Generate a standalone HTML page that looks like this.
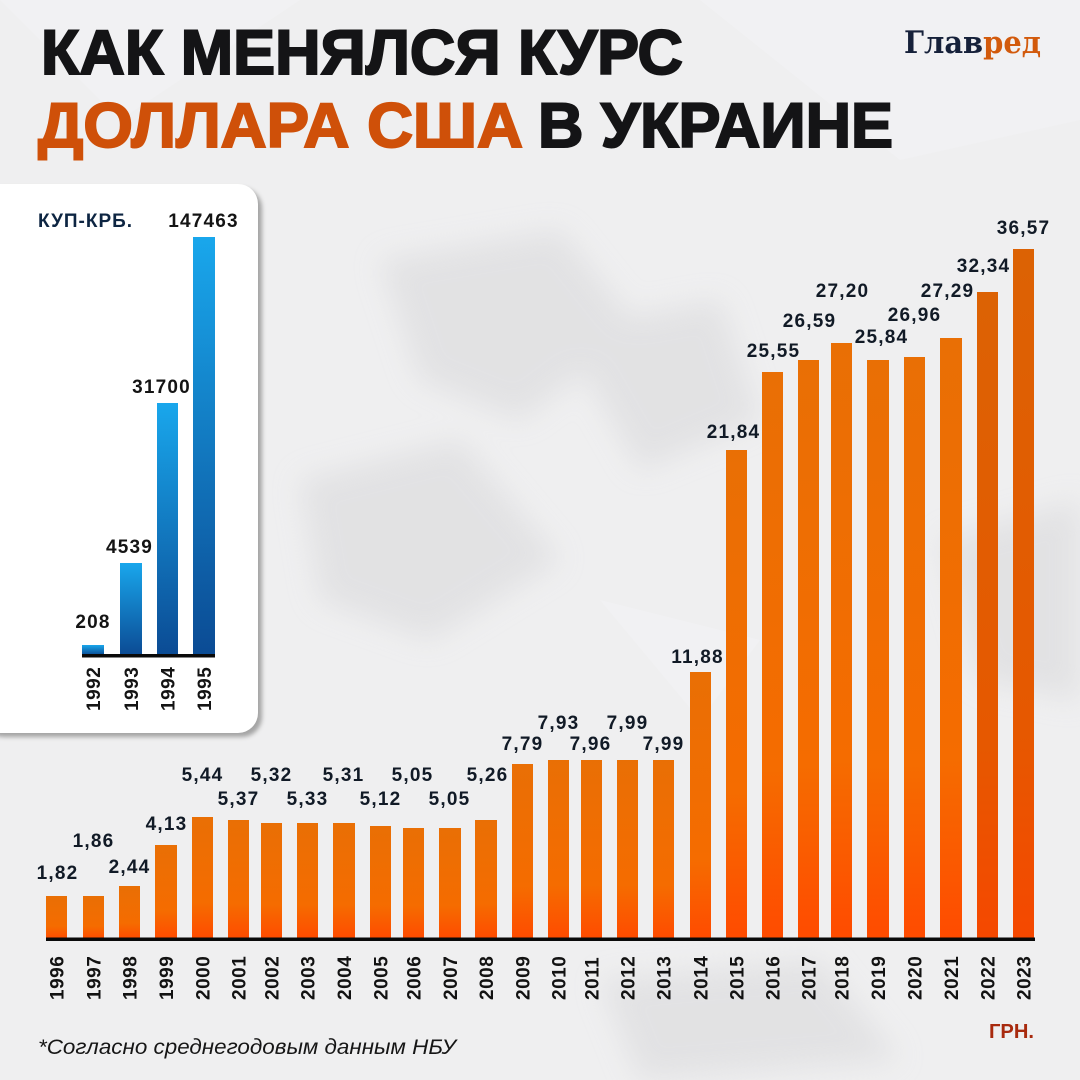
<!DOCTYPE html>
<html>
<head>
<meta charset="utf-8">
<style>
html,body{margin:0;padding:0;background:#efeff0;}
svg{display:block;}
</style>
</head>
<body>
<svg width="1080" height="1080" viewBox="0 0 1080 1080" xmlns="http://www.w3.org/2000/svg">
<defs>
<linearGradient id="org" x1="0" y1="0" x2="0" y2="1">
<stop offset="0" stop-color="#e96f05"/>
<stop offset="0.7" stop-color="#f56c00"/>
<stop offset="1" stop-color="#ff4b00"/>
</linearGradient>
<linearGradient id="org2" x1="0" y1="0" x2="0" y2="1">
<stop offset="0" stop-color="#dc6204"/>
<stop offset="0.7" stop-color="#e65800"/>
<stop offset="1" stop-color="#f54800"/>
</linearGradient>
<linearGradient id="blu" x1="0" y1="0" x2="0" y2="1">
<stop offset="0" stop-color="#19a7ec"/>
<stop offset="1" stop-color="#0b4b94"/>
</linearGradient>
<filter id="blur" x="-20%" y="-20%" width="140%" height="140%"><feGaussianBlur stdDeviation="14"/></filter>
<filter id="sh" x="-10%" y="-10%" width="120%" height="120%"><feGaussianBlur stdDeviation="2"/></filter>
</defs>

<!-- background -->
<rect x="0" y="0" width="1080" height="1080" fill="#efeff0"/>
<g opacity="0.55" filter="url(#blur)" fill="#d8d8da">
<polygon points="380,260 560,230 640,330 520,420 420,380"/>
<polygon points="560,330 720,300 760,420 640,470"/>
<polygon points="300,480 460,440 560,560 430,640 320,600"/>
<polygon points="600,980 820,960 900,1060 640,1080"/>
<polygon points="0,380 60,360 80,620 0,640"/>
<polygon points="940,540 1080,500 1080,700 980,680"/>
</g>
<g opacity="0.35" fill="#f7f7f8">
<polygon points="0,0 300,0 120,120"/>
<polygon points="700,0 1080,0 1080,120 900,160"/>
<polygon points="600,600 760,640 700,720"/>
</g>

<!-- title -->
<g font-family="'Liberation Sans', Arial, sans-serif" font-weight="bold">
<text x="41" y="74" font-size="63" fill="#141416" stroke="#141416" stroke-width="2" textLength="642" lengthAdjust="spacingAndGlyphs">КАК МЕНЯЛСЯ КУРС</text>
<text x="38" y="147" font-size="63" fill="#cf5009" stroke="#cf5009" stroke-width="2" textLength="485" lengthAdjust="spacingAndGlyphs">ДОЛЛАРА США</text>
<text x="538" y="147" font-size="63" fill="#141416" stroke="#141416" stroke-width="2" textLength="355" lengthAdjust="spacingAndGlyphs">В УКРАИНЕ</text>
</g>

<!-- logo -->
<text x="904" y="53" font-family="'DejaVu Serif', 'Liberation Serif', serif" font-weight="bold" font-size="31" textLength="137" lengthAdjust="spacingAndGlyphs"><tspan fill="#16213a">Глав</tspan><tspan fill="#d25a0c">ред</tspan></text>

<!-- inset panel -->
<rect x="-16" y="188" width="278" height="549" rx="20" fill="#9c9c9c" filter="url(#sh)" opacity="0.9"/>
<rect x="-20" y="184" width="278" height="549" rx="20" fill="#ffffff"/>
<g fill="url(#blu)">
<rect x="82" y="645" width="22" height="10"/>
<rect x="120" y="563" width="22" height="92"/>
<rect x="157" y="403" width="21" height="252"/>
<rect x="193" y="237" width="22" height="418"/>
</g>
<rect x="82" y="654" width="133" height="3.5" fill="#0a0a0a"/>
<g font-family="'Liberation Sans', Arial, sans-serif" font-weight="bold" font-size="19" letter-spacing="1.2" text-anchor="middle" fill="#141414">
<text x="93" y="628">208</text>
<text x="129.5" y="553">4539</text>
<text x="161.5" y="393">31700</text>
<text x="203.5" y="227">147463</text>
</g>
<text x="38" y="227" font-family="'Liberation Sans', Arial, sans-serif" font-weight="bold" font-size="19" letter-spacing="1" fill="#0d2542">КУП-КРБ.</text>
<g font-family="'Liberation Sans', Arial, sans-serif" font-weight="bold" font-size="19" letter-spacing="0.5" fill="#141414">
<text transform="translate(100,711) rotate(-90)">1992</text>
<text transform="translate(138,711) rotate(-90)">1993</text>
<text transform="translate(174.5,711) rotate(-90)">1994</text>
<text transform="translate(211,711) rotate(-90)">1995</text>
</g>

<!-- main bars -->
<g fill="url(#org)">
<rect x="46" y="896" width="21" height="43"/>
<rect x="83" y="896" width="21" height="43"/>
<rect x="119" y="886" width="21" height="53"/>
<rect x="155" y="845" width="22" height="94"/>
<rect x="192" y="817" width="21" height="122"/>
<rect x="228" y="820" width="21" height="119"/>
<rect x="261" y="823" width="21" height="116"/>
<rect x="297" y="823" width="21" height="116"/>
<rect x="333" y="823" width="22" height="116"/>
<rect x="370" y="826" width="21" height="113"/>
<rect x="403" y="828" width="21" height="111"/>
<rect x="439" y="828" width="22" height="111"/>
<rect x="475" y="820" width="22" height="119"/>
<rect x="512" y="764" width="21" height="175"/>
<rect x="548" y="760" width="21" height="179"/>
<rect x="581" y="760" width="21" height="179"/>
<rect x="617" y="760" width="21" height="179"/>
<rect x="653" y="760" width="21" height="179"/>
<rect x="690" y="672" width="21" height="267"/>
<rect x="726" y="450" width="21" height="489"/>
<rect x="762" y="372" width="21" height="567"/>
<rect x="798" y="360" width="21" height="579"/>
<rect x="831" y="343" width="21" height="596"/>
<rect x="867" y="360" width="22" height="579"/>
<rect x="904" y="357" width="21" height="582"/>
<rect x="940" y="338" width="22" height="601"/>
</g>
<g fill="url(#org2)">
<rect x="977" y="292" width="21" height="647"/>
<rect x="1013" y="249" width="21" height="690"/>
</g>
<rect x="46" y="937.5" width="989" height="3.5" fill="#0a0a0a"/>

<!-- value labels -->
<g font-family="'Liberation Sans', Arial, sans-serif" font-weight="bold" font-size="19" letter-spacing="1.2" text-anchor="middle" fill="#111a26">
<text x="57.5" y="879">1,82</text>
<text x="93.5" y="847">1,86</text>
<text x="129.5" y="873">2,44</text>
<text x="166.5" y="830">4,13</text>
<text x="202.5" y="781">5,44</text>
<text x="238.5" y="805">5,37</text>
<text x="271.5" y="781">5,32</text>
<text x="307.5" y="805">5,33</text>
<text x="343.5" y="781">5,31</text>
<text x="380.5" y="805">5,12</text>
<text x="412.5" y="781">5,05</text>
<text x="449.5" y="805">5,05</text>
<text x="487.5" y="781">5,26</text>
<text x="522.5" y="750">7,79</text>
<text x="558.5" y="729">7,93</text>
<text x="590.5" y="750">7,96</text>
<text x="627.5" y="729">7,99</text>
<text x="663.5" y="750">7,99</text>
<text x="697.5" y="663">11,88</text>
<text x="733.5" y="438">21,84</text>
<text x="773.5" y="357">25,55</text>
<text x="809.5" y="327">26,59</text>
<text x="842.5" y="297">27,20</text>
<text x="881.5" y="343">25,84</text>
<text x="914.5" y="321">26,96</text>
<text x="947.5" y="297">27,29</text>
<text x="983.5" y="272">32,34</text>
<text x="1023.5" y="234">36,57</text>
</g>

<!-- year labels -->
<g font-family="'Liberation Sans', Arial, sans-serif" font-weight="bold" font-size="19" letter-spacing="0.5" fill="#121212">
<text transform="translate(63.5,1000) rotate(-90)">1996</text>
<text transform="translate(100.5,1000) rotate(-90)">1997</text>
<text transform="translate(136.5,1000) rotate(-90)">1998</text>
<text transform="translate(173,1000) rotate(-90)">1999</text>
<text transform="translate(209.5,1000) rotate(-90)">2000</text>
<text transform="translate(245.5,1000) rotate(-90)">2001</text>
<text transform="translate(278.5,1000) rotate(-90)">2002</text>
<text transform="translate(314.5,1000) rotate(-90)">2003</text>
<text transform="translate(351,1000) rotate(-90)">2004</text>
<text transform="translate(387.5,1000) rotate(-90)">2005</text>
<text transform="translate(420.5,1000) rotate(-90)">2006</text>
<text transform="translate(457,1000) rotate(-90)">2007</text>
<text transform="translate(493,1000) rotate(-90)">2008</text>
<text transform="translate(529.5,1000) rotate(-90)">2009</text>
<text transform="translate(565.5,1000) rotate(-90)">2010</text>
<text transform="translate(598.5,1000) rotate(-90)">2011</text>
<text transform="translate(634.5,1000) rotate(-90)">2012</text>
<text transform="translate(670.5,1000) rotate(-90)">2013</text>
<text transform="translate(707.5,1000) rotate(-90)">2014</text>
<text transform="translate(743.5,1000) rotate(-90)">2015</text>
<text transform="translate(779.5,1000) rotate(-90)">2016</text>
<text transform="translate(815.5,1000) rotate(-90)">2017</text>
<text transform="translate(848.5,1000) rotate(-90)">2018</text>
<text transform="translate(885,1000) rotate(-90)">2019</text>
<text transform="translate(921.5,1000) rotate(-90)">2020</text>
<text transform="translate(958,1000) rotate(-90)">2021</text>
<text transform="translate(994.5,1000) rotate(-90)">2022</text>
<text transform="translate(1030.5,1000) rotate(-90)">2023</text>
</g>

<!-- footnote & unit -->
<text x="38" y="1054" font-family="'Liberation Sans', Arial, sans-serif" font-style="italic" font-size="21" fill="#161616" textLength="418" lengthAdjust="spacingAndGlyphs">*Согласно среднегодовым данным НБУ</text>
<text x="989" y="1038" font-family="'Liberation Sans', Arial, sans-serif" font-weight="bold" font-size="20" fill="#a82a0e" textLength="45" lengthAdjust="spacingAndGlyphs">ГРН.</text>
</svg>
</body>
</html>
